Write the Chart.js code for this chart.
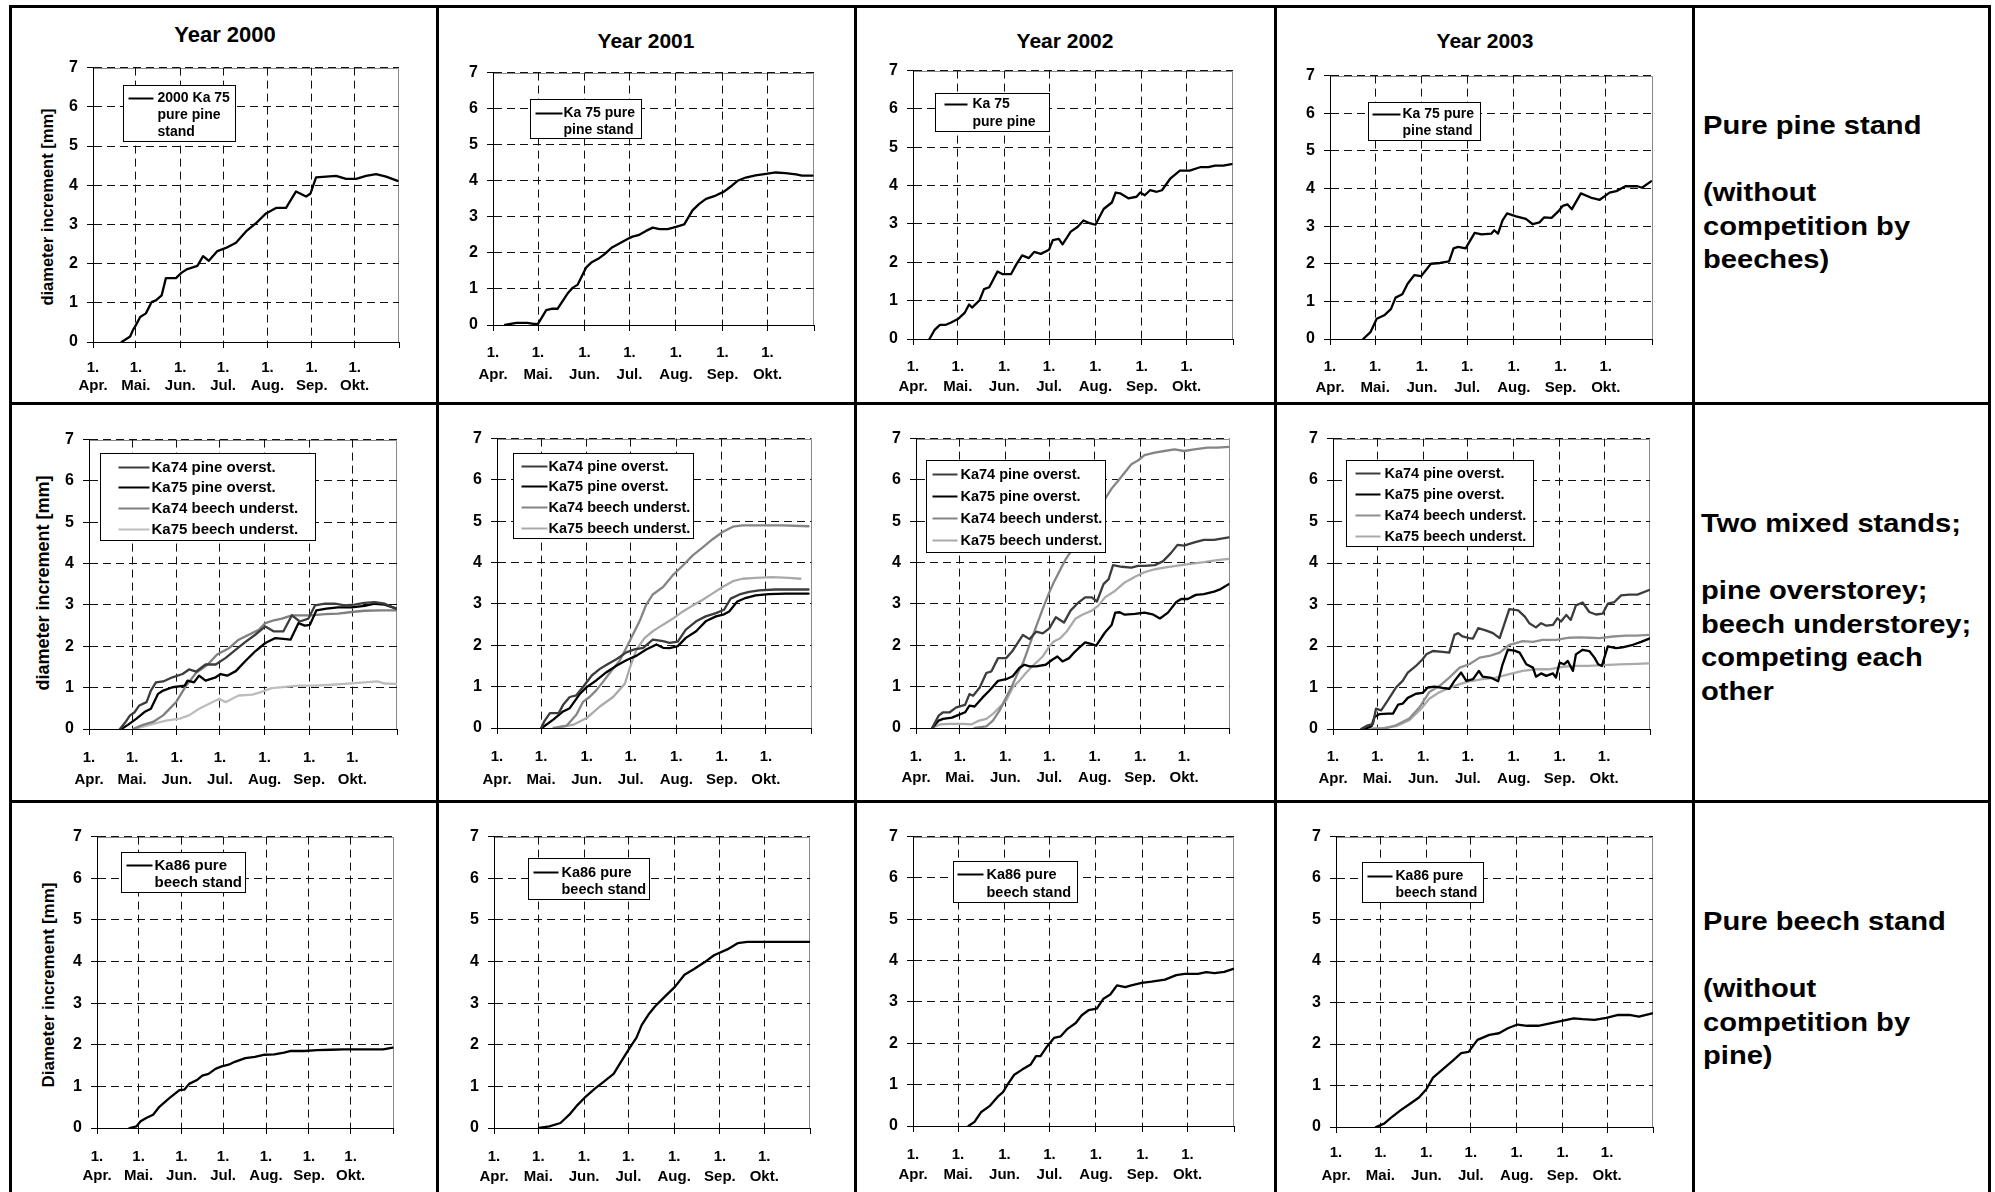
<!DOCTYPE html>
<html>
<head>
<meta charset="utf-8">
<title>Diameter increment 2000-2003</title>
<script src="https://cdn.jsdelivr.net/npm/chart.js@4.4.1/dist/chart.umd.min.js"></script>
<style>
  html, body { margin: 0; padding: 0; background: #fff; }
  body { width: 1995px; height: 1192px; position: relative; overflow: hidden;
         font-family: "Liberation Sans", Arial, Helvetica, sans-serif; font-weight: bold; color: #000; }
  .vl { position: absolute; width: 3px; background: #000; }
  .hl { position: absolute; height: 3px; background: #000; }
  canvas { position: absolute; }
  .title { position: absolute; line-height: 1; white-space: nowrap; transform: translate(-50%, -50%); }
  .ytitle { position: absolute; line-height: 1; white-space: nowrap; transform: translate(-50%, -50%) rotate(-90deg); }
  .rowlab { position: absolute; font-size: 26px; line-height: 33.5px; white-space: nowrap;
            transform: scaleX(1.12); transform-origin: 0 0; }
</style>
</head>
<body>

<!-- table grid -->
<div class="vl" style="left:9px;top:5px;height:1187px"></div>
<div class="vl" style="left:436px;top:5px;height:1187px"></div>
<div class="vl" style="left:854px;top:5px;height:1187px"></div>
<div class="vl" style="left:1274px;top:5px;height:1187px"></div>
<div class="vl" style="left:1692px;top:5px;height:1187px"></div>
<div class="vl" style="left:1988px;top:5px;height:1187px"></div>
<div class="hl" style="left:9px;top:5px;width:1982px"></div>
<div class="hl" style="left:9px;top:402px;width:1982px"></div>
<div class="hl" style="left:9px;top:800px;width:1982px"></div>

<!-- column titles -->
<div class="title" style="left:225px;top:35px;font-size:22px">Year 2000</div>
<div class="title" style="left:646px;top:40px;font-size:21px">Year 2001</div>
<div class="title" style="left:1065px;top:40px;font-size:21px">Year 2002</div>
<div class="title" style="left:1485px;top:40px;font-size:21px">Year 2003</div>

<!-- y axis titles -->
<div class="ytitle" style="left:47px;top:207px;font-size:16.5px">diameter increment [mm]</div>
<div class="ytitle" style="left:43px;top:583px;font-size:18px">diameter increment [mm]</div>
<div class="ytitle" style="left:48px;top:985px;font-size:17px">Diameter increment [mm]</div>

<!-- row descriptions -->
<div class="rowlab" style="left:1703px;top:109px">Pure pine stand<br><br>(without<br>competition by<br>beeches)</div>
<div class="rowlab" style="left:1701px;top:507px">Two mixed stands;<br><br>pine overstorey;<br>beech understorey;<br>competing each<br>other</div>
<div class="rowlab" style="left:1703px;top:905px">Pure beech stand<br><br>(without<br>competition by<br>pine)</div>

<script>
// ---- axis definition: days counted from 1 April, month starts as ticks ----
const monthStartDays = [0, 30, 61, 91, 122, 153, 183, 214];
const monthNames = ['Apr.', 'Mai.', 'Jun.', 'Jul.', 'Aug.', 'Sep.', 'Okt.'];

// ---- legend texts ----
const pureLegend2000 = ['2000 Ka 75', 'pure pine', 'stand'];
const pureLegend2001 = ['Ka 75 pure', 'pine stand'];
const pureLegend2002 = ['Ka 75', 'pure pine'];
const pureLegend2003 = ['Ka 75 pure', 'pine stand'];
const mixedLabels = ['Ka74 pine overst.', 'Ka75 pine overst.', 'Ka74 beech underst.', 'Ka75 beech underst.'];
const beechLegend = ['Ka86 pure', 'beech stand'];

// ---- pure pine stand Ka 75 ----
const pineDays2000 = [20, 26, 28, 30, 33, 37, 41, 44, 48, 51, 58, 62, 66, 73, 77, 81, 87, 93, 100, 107, 114, 121, 128, 135, 142, 149, 152, 156, 163, 170, 177, 184, 191, 198, 205, 213];
const pine2000 = [0, 0.14, 0.31, 0.43, 0.64, 0.73, 1.02, 1.06, 1.19, 1.63, 1.63, 1.77, 1.86, 1.94, 2.19, 2.07, 2.32, 2.40, 2.53, 2.82, 3.03, 3.28, 3.42, 3.42, 3.84, 3.71, 3.78, 4.20, 4.22, 4.24, 4.16, 4.16, 4.24, 4.28, 4.22, 4.11];

const pineDays2001 = [8, 15.5, 23, 27, 30, 35.5, 39, 43, 50, 53, 56.5, 62, 65.5, 71, 74, 79, 83, 90, 93, 97.5, 102, 106.5, 111, 116.5, 122, 127.5, 133, 137.5, 142, 148.5, 154, 158.5, 163, 168.5, 175, 182, 188.5, 195, 202, 206, 213];
const pine2001 = [0, 0.06, 0.06, 0.03, 0.03, 0.41, 0.45, 0.45, 0.89, 1.03, 1.12, 1.59, 1.73, 1.86, 1.95, 2.14, 2.23, 2.39, 2.45, 2.50, 2.61, 2.70, 2.66, 2.66, 2.72, 2.79, 3.18, 3.36, 3.50, 3.59, 3.70, 3.84, 4.00, 4.09, 4.15, 4.19, 4.23, 4.21, 4.18, 4.14, 4.14];

const pineDays2002 = [11, 14.5, 18, 22, 25.5, 30, 34.5, 37.5, 39.5, 44.5, 47.5, 51, 56.5, 60, 65.5, 69, 73, 77.5, 81, 85.5, 91, 93.5, 97.5, 100, 105.5, 110, 114, 117.5, 122, 127.5, 133, 135.5, 138.5, 144, 149.5, 152, 155, 158.5, 163, 166.5, 172, 178.5, 185, 192, 197.5, 202, 207.5, 213];
const pine2002 = [0, 0.24, 0.37, 0.37, 0.43, 0.52, 0.68, 0.90, 0.82, 1.01, 1.30, 1.35, 1.76, 1.69, 1.69, 1.94, 2.18, 2.11, 2.27, 2.22, 2.33, 2.58, 2.61, 2.47, 2.80, 2.92, 3.09, 3.03, 2.98, 3.39, 3.56, 3.82, 3.80, 3.67, 3.71, 3.82, 3.75, 3.88, 3.84, 3.88, 4.18, 4.39, 4.39, 4.48, 4.48, 4.52, 4.52, 4.56];

const pineDays2003 = [22, 27, 31, 36, 40.5, 43.5, 48, 51.5, 56, 60.5, 67, 73, 79, 82, 85, 90, 96, 100.5, 107, 109, 111.5, 114.5, 117.5, 123.5, 130, 134.5, 139, 142, 147, 151.5, 154.5, 157.5, 160.5, 166.5, 173, 179, 185.5, 190, 196, 204, 207, 213];
const pine2003 = [0, 0.19, 0.54, 0.63, 0.80, 1.10, 1.19, 1.47, 1.70, 1.67, 2.00, 2.02, 2.06, 2.41, 2.45, 2.41, 2.82, 2.78, 2.80, 2.89, 2.80, 3.15, 3.34, 3.26, 3.19, 3.05, 3.10, 3.23, 3.22, 3.39, 3.54, 3.58, 3.45, 3.87, 3.76, 3.70, 3.89, 3.93, 4.06, 4.06, 4.02, 4.19];

// ---- mixed stands 2000 ----
const mixDays2000_p74 = [21.5, 25, 28.5, 31.5, 35, 40, 43, 46.5, 51.5, 58, 65, 69.5, 74.5, 81, 88, 95, 102, 108.5, 115.5, 122.5, 128.5, 135, 141, 146.5, 152.5, 157, 164, 171, 177.5, 184.5, 191.5, 198.5, 205.5, 213.5];
const mix2000_p74 = [0, 0.15, 0.33, 0.40, 0.57, 0.65, 0.93, 1.13, 1.15, 1.25, 1.33, 1.44, 1.39, 1.56, 1.56, 1.72, 1.92, 2.10, 2.28, 2.48, 2.36, 2.36, 2.75, 2.60, 2.67, 2.99, 3.03, 3.03, 2.99, 3.01, 3.05, 3.07, 3.03, 2.91];
const mixDays2000_p75 = [22.5, 27, 33, 38.5, 43, 48, 51.5, 58, 66.5, 68.5, 73, 76.5, 81, 88, 91.5, 96, 102, 108.5, 115.5, 122.5, 129.5, 135, 140, 145.5, 150, 153.5, 158, 165, 173, 182.5, 191.5, 198.5, 205.5, 213.5];
const mix2000_p75 = [0, 0.10, 0.25, 0.41, 0.49, 0.85, 0.93, 1.01, 1.05, 1.17, 1.13, 1.29, 1.17, 1.25, 1.33, 1.29, 1.40, 1.64, 1.88, 2.08, 2.20, 2.18, 2.16, 2.56, 2.50, 2.52, 2.87, 2.91, 2.94, 2.94, 2.98, 3.03, 3.01, 2.91];
const mixDays2000_b74 = [30.5, 37.5, 44.5, 51.5, 60.5, 67.5, 74.5, 82.5, 89, 97.5, 104, 111, 118, 122.5, 128.5, 134, 141, 148, 154.5, 164, 173, 182.5, 191.5, 203, 213.5];
const mix2000_b74 = [0, 0.10, 0.17, 0.33, 0.65, 1.05, 1.36, 1.56, 1.80, 1.96, 2.16, 2.28, 2.40, 2.56, 2.63, 2.67, 2.75, 2.75, 2.75, 2.78, 2.79, 2.83, 2.86, 2.87, 2.87];
const mixDays2000_b75 = [31.5, 42, 53.5, 63, 69.5, 76.5, 83.5, 90.5, 95, 99.5, 104, 113.5, 120, 127, 136.5, 145.5, 157, 168.5, 180, 191.5, 200.5, 205.5, 213.5];
const mix2000_b75 = [0, 0.10, 0.20, 0.25, 0.33, 0.49, 0.61, 0.73, 0.65, 0.73, 0.81, 0.83, 0.90, 0.99, 1.02, 1.05, 1.05, 1.07, 1.10, 1.13, 1.15, 1.10, 1.09];

// ---- mixed stands 2001 ----
const mixDays2001_p74 = [30, 32.5, 36, 42, 45, 49.5, 54, 58.5, 64.5, 70, 75.5, 81.5, 88, 93.5, 99.5, 106, 113, 117.5, 123, 128.5, 135.5, 142, 149, 154.5, 159, 165, 171.5, 178.5, 189.5, 201, 212];
const mix2001_p74 = [0, 0.18, 0.36, 0.36, 0.56, 0.75, 0.79, 0.99, 1.27, 1.43, 1.55, 1.67, 1.83, 1.90, 1.94, 2.14, 2.10, 2.06, 2.09, 2.38, 2.58, 2.70, 2.78, 2.86, 3.13, 3.23, 3.29, 3.33, 3.35, 3.35, 3.35];
const mixDays2001_p75 = [30.5, 38.5, 45, 49.5, 56.5, 61, 67.5, 74.5, 81.5, 88, 95, 101.5, 108.5, 113, 117.5, 123, 128.5, 135.5, 142, 149, 154.5, 158, 163.5, 169.5, 176, 185, 196.5, 212];
const mix2001_p75 = [0, 0.21, 0.40, 0.48, 0.83, 0.99, 1.15, 1.35, 1.51, 1.64, 1.75, 1.90, 2.02, 1.94, 1.93, 1.98, 2.18, 2.34, 2.58, 2.70, 2.75, 2.82, 3.06, 3.15, 3.21, 3.24, 3.25, 3.25];
const mixDays2001_b74 = [38.5, 47.5, 54, 58.5, 63, 67.5, 72, 78, 83.5, 88, 92.5, 97, 101.5, 106, 113, 119.5, 126.5, 133, 140, 146.5, 153.5, 160.5, 167, 180.5, 194, 212];
const mix2001_b74 = [0, 0.06, 0.32, 0.63, 0.75, 0.91, 1.11, 1.39, 1.63, 1.94, 2.26, 2.58, 2.98, 3.23, 3.41, 3.69, 3.93, 4.17, 4.37, 4.56, 4.74, 4.87, 4.90, 4.90, 4.90, 4.88];
const mixDays2001_b75 = [40.5, 52, 61, 70, 79, 87, 90.5, 95, 100.5, 106, 113, 119.5, 126.5, 133, 140, 146.5, 153.5, 160.5, 167, 176, 187.5, 198.5, 206.5];
const mix2001_b75 = [0, 0.08, 0.24, 0.52, 0.75, 1.07, 1.47, 1.90, 2.18, 2.34, 2.50, 2.64, 2.82, 2.96, 3.10, 3.25, 3.41, 3.55, 3.61, 3.63, 3.65, 3.63, 3.61];

// ---- mixed stands 2002 ----
const mixDays2002_p74 = [11, 15.5, 18.5, 23, 27.5, 33.5, 36.5, 39, 43.5, 48, 51.5, 56, 61.5, 66, 73, 77.5, 82, 86.5, 91, 95.5, 101, 105.5, 111, 115.5, 120, 123.5, 128, 131.5, 134.5, 140.5, 147, 151.5, 156, 163, 168.5, 174, 178.5, 183, 190, 196.5, 203.5, 213.5];
const mix2002_p74 = [0, 0.30, 0.38, 0.38, 0.50, 0.56, 0.82, 0.78, 0.98, 1.33, 1.37, 1.69, 1.69, 1.87, 2.25, 2.15, 2.33, 2.29, 2.41, 2.68, 2.55, 2.84, 3.04, 3.16, 3.16, 3.06, 3.48, 3.60, 3.94, 3.90, 3.88, 3.92, 3.92, 3.94, 4.03, 4.23, 4.43, 4.41, 4.49, 4.55, 4.55, 4.61];
const mixDays2002_p75 = [11, 15.5, 18.5, 24.5, 30, 33.5, 36.5, 40, 45.5, 50, 56, 61.5, 66, 70.5, 74, 77.5, 82, 88.5, 93, 96.5, 100, 104.5, 107.5, 111, 115.5, 120, 123, 129, 133.5, 136, 139, 142.5, 149.5, 156, 161.5, 166.5, 172, 177.5, 181, 185.5, 191, 196.5, 203.5, 208, 213.5];
const mix2002_p75 = [0, 0.18, 0.22, 0.25, 0.33, 0.38, 0.54, 0.52, 0.74, 0.90, 1.14, 1.18, 1.25, 1.45, 1.53, 1.49, 1.49, 1.53, 1.65, 1.73, 1.61, 1.69, 1.81, 1.93, 2.07, 2.03, 1.99, 2.31, 2.49, 2.79, 2.80, 2.74, 2.76, 2.79, 2.75, 2.65, 2.79, 3.04, 3.12, 3.12, 3.22, 3.24, 3.30, 3.36, 3.48];
const mixDays2002_b74 = [40, 48, 52.5, 57, 61.5, 65, 69.5, 73, 77.5, 82, 86.5, 91, 94, 97.5, 102, 106.5, 111, 115.5, 121, 127, 133.5, 138, 142.5, 147, 151.5, 156, 163, 169.5, 176.5, 183, 190, 199, 205.5, 213.5];
const mix2002_b74 = [0, 0.04, 0.18, 0.42, 0.74, 0.98, 1.33, 1.57, 2.01, 2.45, 2.88, 3.28, 3.52, 3.76, 4.07, 4.31, 4.51, 4.79, 5.11, 5.43, 5.79, 5.98, 6.18, 6.38, 6.47, 6.60, 6.66, 6.70, 6.74, 6.70, 6.74, 6.78, 6.78, 6.80];
const mixDays2002_b75 = [11, 16.5, 23, 32, 38, 42.5, 48, 52.5, 57, 61.5, 66, 70.5, 75, 80.5, 86.5, 91, 94, 98.5, 103, 109, 113.5, 120, 124.5, 129, 136, 142.5, 149.5, 156, 163, 169.5, 178.5, 187.5, 196.5, 205.5, 213.5];
const mix2002_b75 = [0, 0.09, 0.10, 0.10, 0.09, 0.17, 0.22, 0.34, 0.50, 0.66, 0.98, 1.14, 1.33, 1.53, 1.73, 1.97, 2.09, 2.17, 2.34, 2.65, 2.74, 2.84, 2.96, 3.16, 3.32, 3.52, 3.66, 3.77, 3.84, 3.88, 3.93, 3.97, 4.01, 4.06, 4.09];

// ---- mixed stands 2003 ----
const mixDays2003_p74 = [19, 23.5, 27, 29, 32.5, 37, 42.5, 47, 50.5, 56, 60.5, 63, 67.5, 74, 78.5, 82, 84.5, 87.5, 92, 94.5, 98, 103.5, 108, 112.5, 117, 119, 125, 129.5, 132.5, 137, 140.5, 144, 148.5, 151.5, 154, 157.5, 160.5, 164, 168.5, 173, 177.5, 182, 185.5, 190, 194.5, 200, 205.5, 213.5];
const mix2003_p74 = [0, 0.09, 0.12, 0.49, 0.45, 0.69, 1.00, 1.16, 1.36, 1.52, 1.68, 1.80, 1.88, 1.86, 1.84, 2.27, 2.31, 2.23, 2.19, 2.18, 2.43, 2.37, 2.31, 2.19, 2.67, 2.89, 2.86, 2.71, 2.55, 2.45, 2.55, 2.49, 2.51, 2.67, 2.59, 2.75, 2.63, 2.98, 3.05, 2.82, 2.76, 2.78, 3.02, 3.06, 3.22, 3.24, 3.24, 3.35];
const mixDays2003_p75 = [21.5, 26, 28, 31.5, 37, 40.5, 44, 47, 50.5, 56, 60.5, 64, 68.5, 74, 78.5, 82, 86.5, 90, 94.5, 98.5, 101, 107, 111.5, 114.5, 118, 122.5, 126, 130.5, 135, 137, 140.5, 144, 148.5, 150.5, 153, 156, 158.5, 162, 164, 168.5, 173, 176.5, 179, 181.5, 185.5, 191, 195.5, 202.5, 208, 213.5];
const mix2003_p75 = [0, 0.07, 0.29, 0.36, 0.37, 0.37, 0.59, 0.61, 0.75, 0.85, 0.87, 1.00, 1.02, 0.99, 0.97, 1.16, 1.36, 1.16, 1.20, 1.40, 1.26, 1.23, 1.15, 1.56, 1.91, 1.89, 1.84, 1.56, 1.48, 1.26, 1.34, 1.28, 1.34, 1.24, 1.60, 1.56, 1.64, 1.40, 1.80, 1.91, 1.88, 1.72, 1.56, 1.52, 1.99, 1.95, 1.97, 2.03, 2.10, 2.18];
const mixDays2003_b74 = [27, 36, 42.5, 51.5, 58.5, 65, 72, 78.5, 85.5, 92, 99, 105.5, 112.5, 119, 123.5, 128, 135, 141.5, 150.5, 159.5, 166.5, 173, 180, 189, 198, 204.5, 213.5];
const mix2003_b74 = [0, 0.02, 0.09, 0.25, 0.53, 0.89, 1.04, 1.24, 1.48, 1.56, 1.72, 1.76, 1.84, 2.03, 2.07, 2.12, 2.10, 2.15, 2.15, 2.20, 2.21, 2.20, 2.19, 2.23, 2.25, 2.25, 2.27];
const mixDays2003_b75 = [24.5, 33.5, 42.5, 51.5, 59.5, 65, 72, 78.5, 85.5, 92, 101, 110, 119, 128, 137, 146, 155, 164, 173, 182, 193.5, 204.5, 213.5];
const mix2003_b75 = [0, 0.02, 0.07, 0.21, 0.49, 0.73, 0.89, 0.99, 1.08, 1.15, 1.20, 1.24, 1.32, 1.40, 1.44, 1.44, 1.50, 1.52, 1.52, 1.54, 1.56, 1.57, 1.58];

// ---- pure beech stand Ka86 ----
const beechDays2000 = [23.5, 28.5, 31.5, 35.5, 40.5, 45, 52, 59.5, 63, 66.5, 72.5, 76, 80.5, 85.5, 90, 95, 99.5, 107, 114, 121, 128, 135, 140, 149.5, 159, 168.5, 178, 187.5, 197, 206.5, 213.5];
const beech2000 = [0, 0.04, 0.16, 0.24, 0.32, 0.51, 0.71, 0.91, 0.92, 1.06, 1.16, 1.26, 1.30, 1.42, 1.48, 1.52, 1.59, 1.68, 1.71, 1.76, 1.77, 1.81, 1.85, 1.85, 1.87, 1.88, 1.89, 1.89, 1.89, 1.89, 1.93];
const beechDays2001 = [30.5, 37.5, 45, 51, 56.5, 62, 68.5, 74, 81, 86.5, 92, 96.5, 100, 104.5, 109, 115.5, 122.5, 129, 135.5, 142.5, 149, 158, 165, 171.5, 180.5, 194, 213.5];
const beech2001 = [0, 0.04, 0.12, 0.32, 0.55, 0.75, 0.95, 1.10, 1.30, 1.62, 1.93, 2.17, 2.47, 2.72, 2.92, 3.15, 3.39, 3.68, 3.82, 3.98, 4.15, 4.29, 4.44, 4.47, 4.47, 4.47, 4.47];
const beechDays2002 = [37, 41, 45.5, 51, 56.5, 60, 63, 67.5, 73, 78.5, 82, 85, 89.5, 94, 98.5, 103, 108.5, 112.5, 117, 122.5, 127, 131.5, 136, 141.5, 145.5, 152.5, 159, 168, 175.5, 181, 190, 195.5, 201, 207.5, 213.5];
const beech2002 = [0, 0.10, 0.34, 0.48, 0.71, 0.82, 1.00, 1.24, 1.37, 1.49, 1.69, 1.69, 1.93, 2.13, 2.17, 2.35, 2.49, 2.68, 2.80, 2.84, 3.08, 3.18, 3.40, 3.36, 3.40, 3.46, 3.49, 3.54, 3.65, 3.68, 3.68, 3.72, 3.70, 3.73, 3.80];
const beechDays2003 = [27, 32.5, 37, 43.5, 50, 56, 61, 65.5, 72, 78.5, 84.5, 89.5, 95.5, 103.5, 110, 116, 122.5, 129, 136.5, 144.5, 152.5, 160.5, 166.5, 174.5, 182.5, 190.5, 198, 204.5, 213.5];
const beech2003 = [0, 0.08, 0.22, 0.40, 0.56, 0.71, 0.91, 1.19, 1.39, 1.59, 1.78, 1.81, 2.10, 2.22, 2.26, 2.38, 2.47, 2.44, 2.44, 2.50, 2.56, 2.62, 2.60, 2.58, 2.63, 2.70, 2.70, 2.66, 2.74];

// ---- drawing helpers ----
const FONT = '"Liberation Sans", Arial, Helvetica, sans-serif';
Chart.defaults.font.family = FONT;
Chart.defaults.font.weight = 'bold';
Chart.defaults.color = '#000';

// grey frame on the top and right side of the plot area
const plotFrame = {
  id: 'plotFrame',
  beforeDraw(chart) {
    const { ctx, chartArea: a } = chart;
    ctx.save();
    ctx.strokeStyle = '#8a8a8a';
    ctx.lineWidth = 1;
    ctx.beginPath();
    ctx.moveTo(a.left, Math.round(a.top) + 0.5);
    ctx.lineTo(Math.round(a.right) - 0.5, Math.round(a.top) + 0.5);
    ctx.lineTo(Math.round(a.right) - 0.5, a.bottom);
    ctx.stroke();
    ctx.restore();
  }
};

// boxed legend placed inside the plot area
const legendBox = {
  id: 'legendBox',
  afterDatasetsDraw(chart, args, o) {
    if (!o || !o.w) return;
    const { ctx, chartArea: a } = chart;
    const x = Math.round(a.left + o.dx) + 0.5;
    const y = Math.round(a.top + o.dy) + 0.5;
    ctx.save();
    ctx.fillStyle = '#fff';
    ctx.fillRect(x, y, o.w, o.h);
    ctx.strokeStyle = '#000';
    ctx.lineWidth = 1;
    ctx.strokeRect(x, y, o.w, o.h);
    ctx.font = 'bold ' + o.size + 'px ' + FONT;
    ctx.textBaseline = 'middle';
    ctx.textAlign = 'left';
    let row = 0;
    chart.data.datasets.forEach(ds => {
      const lines = Array.isArray(ds.label) ? ds.label : [ds.label];
      const cy = Math.round(y + o.y0 + row * o.lh) + 0.5;
      ctx.strokeStyle = ds.borderColor;
      ctx.lineWidth = 2;
      ctx.beginPath();
      ctx.moveTo(x + o.sx, cy);
      ctx.lineTo(x + o.sx + o.sw, cy);
      ctx.stroke();
      ctx.fillStyle = '#000';
      lines.forEach((t, k) => ctx.fillText(t, x + o.tx, y + o.y0 + (row + k) * o.lh + 1));
      row += lines.length;
    });
    ctx.restore();
  }
};

const PADL = 62, PADT = 14, PADR = 10, PADB = 64;

function series(label, days, vals, color) {
  return { label, days, vals, color };
}

function makePanel(p) {
  const w = (p.r - p.l) + PADL + PADR;
  const h = (p.b - p.t) + PADT + PADB;
  const cv = document.createElement('canvas');
  cv.width = w; cv.height = h;
  cv.style.left = (p.l - PADL) + 'px';
  cv.style.top = (p.t - PADT) + 'px';
  cv.style.width = w + 'px';
  cv.style.height = h + 'px';
  document.body.appendChild(cv);

  const xFont = { size: p.xSize, weight: 'bold', family: FONT, lineHeight: p.xs + 'px' };
  const last = monthStartDays.length - 1;

  new Chart(cv, {
    type: 'line',
    data: {
      datasets: p.series.map(s => ({
        label: s.label,
        data: s.days.map((d, i) => ({ x: d, y: s.vals[i] })),
        borderColor: s.color,
        borderWidth: 2.3,
        pointRadius: 0,
        tension: 0,
        fill: false,
        borderJoinStyle: 'round',
        borderCapStyle: 'round'
      }))
    },
    options: {
      responsive: false,
      animation: false,
      events: [],
      layout: { padding: { left: 0, top: PADT, right: PADR, bottom: 0 } },
      plugins: {
        legend: { display: false },
        tooltip: { enabled: false },
        legendBox: p.legend
      },
      scales: {
        x: {
          type: 'linear',
          min: 0,
          max: 214,
          afterBuildTicks: s => { s.ticks = monthStartDays.map(v => ({ value: v })); },
          afterFit: s => { s.height = PADB; },
          ticks: {
            autoSkip: false,
            maxRotation: 0,
            padding: p.xc - 6 - p.xs / 2,
            color: '#000',
            font: xFont,
            callback: (v, i) => (i < monthNames.length ? ['1.', monthNames[i]] : '')
          },
          grid: {
            color: c => (c.index === last ? 'rgba(0,0,0,0)' : '#111'),
            lineWidth: 1,
            tickColor: '#000',
            tickLength: 6
          },
          border: { color: '#000', width: 1, dash: [8, 5] }
        },
        y: {
          min: 0,
          max: 7,
          afterFit: s => { s.width = PADL; },
          ticks: { stepSize: 1, padding: 9, color: '#000', font: { size: p.ySize, weight: 'bold', family: FONT } },
          grid: { color: '#111', lineWidth: 1, tickColor: '#000', tickLength: 6 },
          border: { color: '#000', width: 1, dash: [8, 5] }
        }
      }
    },
    plugins: [plotFrame, legendBox]
  });
}

const mixColors = ['#3c3c3c', '#000000', '#858585', '#aaaaaa'];
const mixColors2000 = ['#3c3c3c', '#000000', '#7f7f7f', '#bdbdbd'];

const panels = [
  // row 1: pure pine stand
  { l: 93, t: 63, r: 400, b: 342, xc: 26, xs: 18, xSize: 15, ySize: 16,
    series: [series(pureLegend2000, pineDays2000, pine2000, '#000')],
    legend: { dx: 30, dy: 17, w: 112, h: 56, y0: 12, lh: 17, sx: 5, sw: 25, tx: 34, size: 14 } },
  { l: 493, t: 68, r: 815, b: 325, xc: 28, xs: 22, xSize: 15, ySize: 16,
    series: [series(pureLegend2001, pineDays2001, pine2001, '#000')],
    legend: { dx: 37, dy: 26, w: 111, h: 39, y0: 13, lh: 17, sx: 5, sw: 27, tx: 33, size: 14 } },
  { l: 913, t: 66, r: 1235, b: 339, xc: 28, xs: 20, xSize: 15, ySize: 16,
    series: [series(pureLegend2002, pineDays2002, pine2002, '#000')],
    legend: { dx: 22, dy: 22, w: 114, h: 38, y0: 10, lh: 18, sx: 9, sw: 23, tx: 37, size: 14 } },
  { l: 1330, t: 71, r: 1654, b: 339, xc: 28, xs: 21, xSize: 15, ySize: 16,
    series: [series(pureLegend2003, pineDays2003, pine2003, '#000')],
    legend: { dx: 38, dy: 26, w: 112, h: 38, y0: 11, lh: 17, sx: 4, sw: 28, tx: 34, size: 14 } },

  // row 2: mixed stands
  { l: 89, t: 435, r: 399, b: 729, xc: 29, xs: 22, xSize: 15, ySize: 16,
    series: [
      series(mixedLabels[0], mixDays2000_p74, mix2000_p74, mixColors2000[0]),
      series(mixedLabels[1], mixDays2000_p75, mix2000_p75, mixColors2000[1]),
      series(mixedLabels[2], mixDays2000_b74, mix2000_b74, mixColors2000[2]),
      series(mixedLabels[3], mixDays2000_b75, mix2000_b75, mixColors2000[3])],
    legend: { dx: 11, dy: 13, w: 215, h: 87, y0: 13, lh: 20.7, sx: 18, sw: 31, tx: 51, size: 15 } },
  { l: 497, t: 434, r: 813, b: 728, xc: 29, xs: 23, xSize: 15, ySize: 16,
    series: [
      series(mixedLabels[0], mixDays2001_p74, mix2001_p74, mixColors[0]),
      series(mixedLabels[1], mixDays2001_p75, mix2001_p75, mixColors[1]),
      series(mixedLabels[2], mixDays2001_b74, mix2001_b74, mixColors[2]),
      series(mixedLabels[3], mixDays2001_b75, mix2001_b75, mixColors[3])],
    legend: { dx: 16, dy: 14, w: 180, h: 85, y0: 12, lh: 20.7, sx: 8, sw: 26, tx: 35, size: 14.5 } },
  { l: 916, t: 434, r: 1232, b: 728, xc: 29, xs: 21, xSize: 15, ySize: 16,
    series: [
      series(mixedLabels[0], mixDays2002_p74, mix2002_p74, mixColors[0]),
      series(mixedLabels[1], mixDays2002_p75, mix2002_p75, mixColors[1]),
      series(mixedLabels[2], mixDays2002_b74, mix2002_b74, mixColors[2]),
      series(mixedLabels[3], mixDays2002_b75, mix2002_b75, mixColors[3])],
    legend: { dx: 10, dy: 21, w: 179, h: 92, y0: 13, lh: 22.3, sx: 6, sw: 25, tx: 34, size: 14.5 } },
  { l: 1333, t: 434, r: 1651, b: 729, xc: 28, xs: 22, xSize: 15, ySize: 16,
    series: [
      series(mixedLabels[0], mixDays2003_p74, mix2003_p74, mixColors[0]),
      series(mixedLabels[1], mixDays2003_p75, mix2003_p75, mixColors[1]),
      series(mixedLabels[2], mixDays2003_b74, mix2003_b74, '#8f8f8f'),
      series(mixedLabels[3], mixDays2003_b75, mix2003_b75, mixColors[3])],
    legend: { dx: 13, dy: 21, w: 187, h: 86, y0: 12, lh: 21, sx: 9, sw: 25, tx: 38, size: 14.5 } },

  // row 3: pure beech stand
  { l: 97, t: 832, r: 397, b: 1128, xc: 29, xs: 19, xSize: 15, ySize: 16,
    series: [series(beechLegend, beechDays2000, beech2000, '#000')],
    legend: { dx: 24, dy: 15, w: 124, h: 40, y0: 12, lh: 17, sx: 5, sw: 26, tx: 33, size: 15 } },
  { l: 494, t: 832, r: 813, b: 1128, xc: 29, xs: 20, xSize: 15, ySize: 16,
    series: [series(beechLegend, beechDays2001, beech2001, '#000')],
    legend: { dx: 34, dy: 21, w: 121, h: 41, y0: 13, lh: 17, sx: 5, sw: 25, tx: 33, size: 14.5 } },
  { l: 913, t: 832, r: 1237, b: 1126, xc: 29, xs: 20, xSize: 15, ySize: 16,
    series: [series(beechLegend, beechDays2002, beech2002, '#000')],
    legend: { dx: 40, dy: 24, w: 124, h: 41, y0: 12, lh: 18, sx: 4, sw: 26, tx: 33, size: 14.5 } },
  { l: 1336, t: 832, r: 1653, b: 1127, xc: 26, xs: 23, xSize: 15, ySize: 16,
    series: [series(beechLegend, beechDays2003, beech2003, '#000')],
    legend: { dx: 26, dy: 25, w: 121, h: 40, y0: 13, lh: 17, sx: 5, sw: 25, tx: 33, size: 14 } }
];

panels.forEach(makePanel);
</script>
</body>
</html>
